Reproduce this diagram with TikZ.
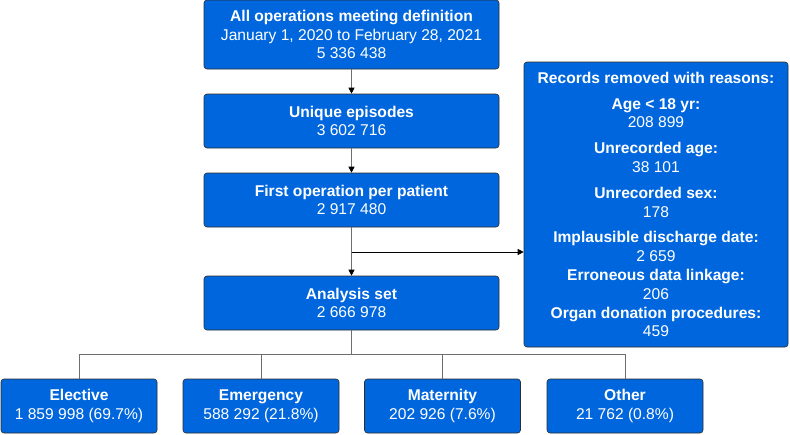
\documentclass[tikz,border=0pt]{standalone}
\usepackage{fontspec}
\setmainfont{Liberation Sans}
\usetikzlibrary{arrows.meta,positioning}
\definecolor{boxblue}{RGB}{0,102,221}
\definecolor{edgegray}{RGB}{45,45,45}
\definecolor{linegray}{RGB}{110,110,110}

\tikzset{
  flowbox/.style={draw=edgegray, line width=0.6pt, fill=boxblue, rounded corners=3pt,
    text=white, align=center, inner sep=0pt, font=\fontsize{15.6}{18.8}\selectfont},
  flowarrow/.style={draw=linegray, line width=0.8pt, -{Triangle[length=6pt,width=6pt,color=black]}},
  sidearrow/.style={draw=black, line width=0.8pt, -{Triangle[length=6pt,width=6pt]}},
  busline/.style={draw=linegray, line width=0.8pt}
}

\begin{document}
\begin{tikzpicture}[x=1pt,y=-1pt]
    \useasboundingbox (0,0) rectangle (790,434);

    % main column
    \node[flowbox, minimum width=295pt, minimum height=69pt] (all) at (351.5,34.5)
        {\textbf{All operations meeting definition}\\January 1, 2020 to February 28, 2021\\5 336 438};
    \node[flowbox, minimum width=295pt, minimum height=54pt] (unique) at (351.5,121)
        {\textbf{Unique episodes}\\3 602 716};
    \node[flowbox, minimum width=295pt, minimum height=54pt] (first) at (351.5,200)
        {\textbf{First operation per patient}\\2 917 480};
    \node[flowbox, minimum width=295pt, minimum height=54pt] (analysis) at (351.5,303)
        {\textbf{Analysis set}\\2 666 978};

    % exclusions
    \node[flowbox, minimum width=264pt, minimum height=285pt] (removed) at (656,204.5)
        {\textbf{Records removed with reasons:}\\[7pt]
         \textbf{Age < 18 yr:}\\208 899\\[7pt]
         \textbf{Unrecorded age:}\\38 101\\[7pt]
         \textbf{Unrecorded sex:}\\178\\[7pt]
         \textbf{Implausible discharge date:}\\2 659\\
         \textbf{Erroneous data linkage:}\\206\\
         \textbf{Organ donation procedures:}\\459};

    % subgroups
    \foreach \name/\x/\m/\n in {
        elective/79/Elective/{1 859 998 (69.7\%)},
        emergency/261/Emergency/{588 292 (21.8\%)},
        maternity/442.5/Maternity/{202 926 (7.6\%)},
        other/625/Other/{21 762 (0.8\%)}}
        \node[flowbox, minimum width=156pt, minimum height=54pt] (\name) at (\x,406)
            {\textbf{\m}\\\n};

    \coordinate (split) at (351.5,252);
    \coordinate (bus) at (351.5,354);

    \draw[flowarrow] (all) -- (unique);
    \draw[flowarrow] (unique) -- (first);
    \draw[flowarrow] (first) -- (analysis);
    \draw[sidearrow] (split) -- (split -| removed.west);

    \draw[busline] (analysis) -- (bus);
    \foreach \name in {elective, emergency, maternity, other}
        \draw[busline] (bus) -| (\name.north);
\end{tikzpicture}
\end{document}
